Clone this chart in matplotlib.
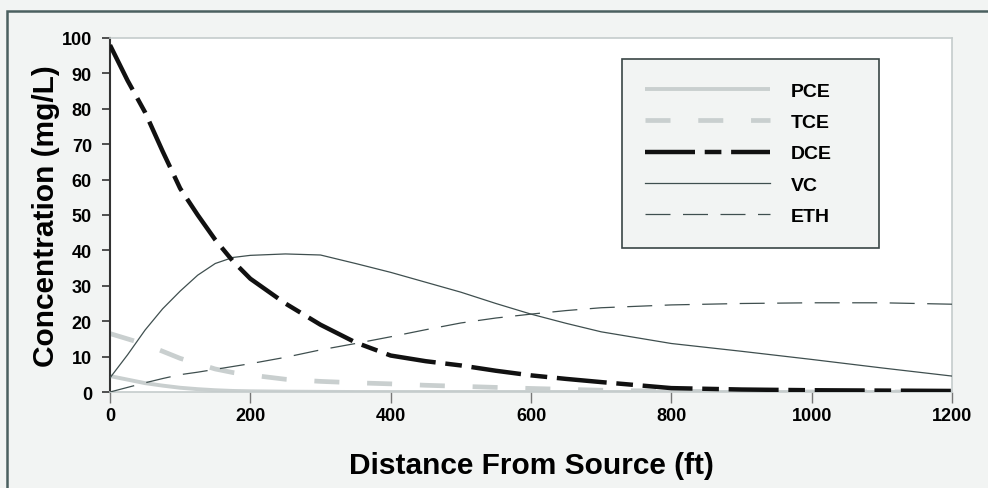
import matplotlib
matplotlib.use("Agg")
import matplotlib.pyplot as plt
from matplotlib.patches import Rectangle

plt.rcParams['font.family'] = ['Liberation Sans', 'DejaVu Sans']
plt.rcParams['font.weight'] = 'bold'
plt.rcParams['lines.scale_dashes'] = False

# distance from source (ft)
distance = [0, 25, 50, 75, 100, 125, 150, 175, 200, 250, 300, 350, 400, 450,
            500, 550, 600, 650, 700, 800, 900, 1000, 1100, 1200]

# concentrations (mg/L)
pce = [4.5, 3.5, 2.5, 1.8, 1.2, 0.8, 0.5, 0.3, 0.2, 0.1, 0.05, 0, 0, 0,
       0, 0, 0, 0, 0, 0, 0, 0, 0, 0]
tce = [16.5, 15, 13.5, 11.5, 9.5, 8, 6.5, 5.5, 4.8, 3.6, 3, 2.6, 2.3, 1.9,
       1.6, 1.3, 1.0, 0.75, 0.5, 0.2, 0.05, 0, 0, 0]
dce = [98, 88, 79, 68, 57.5, 50, 43, 37, 32, 25, 19, 14, 10.3, 8.7,
       7.5, 6, 4.7, 3.7, 2.8, 1.1, 0.7, 0.5, 0.4, 0.3]
vc = [4, 10.5, 17.5, 23.5, 28.5, 33, 36.3, 38, 38.6, 39, 38.7, 36.3, 33.8, 31,
      28.2, 25, 22, 19.4, 17, 13.7, 11.5, 9.2, 6.8, 4.5]
eth = [0, 1.3, 2.6, 3.8, 4.9, 5.6, 6.4, 7.2, 8, 9.8, 11.9, 13.7, 15.6, 17.6,
       19.5, 20.9, 22, 23, 23.8, 24.6, 25, 25.2, 25.2, 24.8]

xticks = [0, 200, 400, 600, 800, 1000, 1200]
yticks = list(range(0, 101, 10))

bg = '#f2f4f3'
light = '#c9cfcf'
dark = '#3f4f4f'

fig = plt.figure(figsize=(9.88, 4.89), dpi=100, facecolor=bg)
ax = fig.add_axes([110 / 988, 1 - 393 / 489, 842 / 988, 354 / 489])
ax.set_facecolor('white')

ax.plot(distance, pce, color=light, lw=2.8, solid_capstyle='butt', label='PCE', zorder=2)
ax.plot(distance, tce, color=light, lw=3.4, dashes=(18, 20), label='TCE', zorder=2)
ax.plot(distance, dce, color='#111111', lw=3.2, dashes=(36, 7, 12, 7), label='DCE', zorder=4)
ax.plot(distance, vc, color=dark, lw=0.9, label='VC', zorder=3)
ax.plot(distance, eth, color=dark, lw=0.9, dashes=(18, 9), label='ETH', zorder=3)

ax.set_xlim(0, 1200)
ax.set_ylim(0, 100)
ax.set_xticks(xticks)
ax.set_yticks(yticks)
ax.tick_params(axis='y', direction='out', length=6, width=1.2, color='#333333',
               labelsize=13, pad=7)
ax.tick_params(axis='x', direction='out', length=8, width=1.0, color='#777777',
               labelsize=13, pad=3)
for lab in ax.get_xticklabels() + ax.get_yticklabels():
    lab.set_fontweight('bold')

ax.spines['left'].set_color('#333333')
ax.spines['left'].set_linewidth(1.5)
for s in ['top', 'right', 'bottom']:
    ax.spines[s].set_color('#c5cccc')
    ax.spines[s].set_linewidth(1.2)

ax.set_xlabel('Distance From Source (ft)', fontsize=21.5, fontweight='bold', labelpad=19)
ax.set_ylabel('Concentration (mg/L)', fontsize=21.5, fontweight='bold', labelpad=1)

leg = ax.legend(loc='upper left',
                bbox_to_anchor=(622 / 988, 1 - 60 / 489 - 0.1, 257 / 988, 0.1),
                bbox_transform=fig.transFigure, mode='expand', fontsize=14,
                handlelength=6.4, handletextpad=1.1, labelspacing=0.7,
                borderpad=1.2, fancybox=False, framealpha=1, borderaxespad=0)
leg.get_frame().set_facecolor(bg)
leg.get_frame().set_edgecolor('#3a4646')
leg.get_frame().set_linewidth(1.2)
for t in leg.get_texts():
    t.set_fontweight('bold')

# outer frame of the figure
fig.patches.append(Rectangle((7 / 988, -0.2), 1.2, 1 - 12 / 489 + 0.2,
                             transform=fig.transFigure, fill=False,
                             edgecolor='#4b6060', lw=1.8))

fig.savefig('out.png', dpi=100, facecolor=bg)
